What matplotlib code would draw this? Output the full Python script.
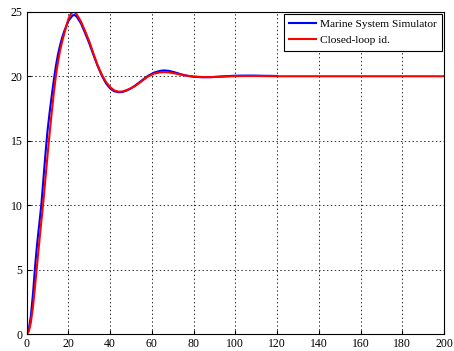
import matplotlib.pyplot as plt

# step response: simulator vs closed-loop identified model
t_sim = [0, 1, 2, 3, 4, 5, 6, 7, 8, 9, 10, 11, 12, 13, 14, 15, 16, 17, 18, 20, 22, 23, 24,
         26, 28, 30, 32, 34, 36, 38, 40, 42, 44, 46, 48, 50, 52, 55, 58, 61, 64, 66, 68, 71,
         74, 77, 80, 84, 88, 92, 96, 100, 104, 108, 112, 116, 120]
y_sim = [0, 0.35, 1.4, 3.1, 5.2, 7.0, 8.5, 10.0, 12.0, 14.0, 15.8, 17.2, 18.5, 19.7, 20.8,
         21.7, 22.4, 23.0, 23.5, 24.3, 24.72, 24.75, 24.62, 24.1, 23.35, 22.55, 21.65, 20.8,
         20.05, 19.45, 19.05, 18.83, 18.76, 18.78, 18.9, 19.06, 19.28, 19.65, 20.02, 20.28,
         20.42, 20.45, 20.42, 20.3, 20.15, 20.03, 19.96, 19.92, 19.93, 19.97, 20.01, 20.04,
         20.05, 20.05, 20.04, 20.03, 20.02]

t_id = [0, 1, 2, 3, 4, 5, 6, 7, 8, 9, 10, 11, 12, 13, 14, 15, 16, 17, 18, 19, 20, 21, 22, 23,
        24, 26, 28, 30, 32, 34, 36, 38, 40, 42, 44, 46, 48, 50, 52, 55, 58, 61, 64, 66, 68,
        71, 74, 77, 80, 84, 88, 92, 96, 100, 110, 120, 200]
y_id = [0, 0.2, 0.9, 2.1, 3.7, 5.4, 7.1, 8.7, 10.3, 12.1, 13.9, 15.6, 17.2, 18.7, 20.05,
        21.1, 22.0, 22.7, 23.3, 23.9, 24.45, 24.8, 24.98, 24.97, 24.8, 24.25, 23.5, 22.7,
        21.75, 20.85, 20.12, 19.55, 19.15, 18.9, 18.8, 18.82, 18.93, 19.07, 19.25, 19.6,
        19.97, 20.2, 20.3, 20.32, 20.3, 20.22, 20.12, 20.04, 19.98, 19.94, 19.93, 19.95,
        19.98, 20.01, 20.02, 20.0, 20.0]

plt.rcParams['font.family'] = ['Liberation Serif', 'DejaVu Serif']

fig = plt.figure(figsize=(4.54, 3.51), dpi=100)
ax = fig.add_axes([0.0588, 0.0484, 0.9192, 0.918])

ax.plot(t_sim, y_sim, color='#0000ff', lw=1.5, label='Marine System Simulator')
ax.plot(t_id, y_id, color='#ff0000', lw=1.5, label='Closed-loop id.')

ax.set_xlim(0, 200)
ax.set_ylim(0, 25)
ax.set_xticks(range(0, 201, 20))
ax.set_yticks(range(0, 26, 5))
ax.grid(True, color='black', linestyle=(0, (1.5, 2.5)), linewidth=0.7, alpha=0.8)
ax.tick_params(direction='in', labelsize=8.5, length=3, pad=3)
for s in ax.spines.values():
    s.set_linewidth(0.8)

leg = ax.legend(loc='upper right', fontsize=8.2, fancybox=False, framealpha=1,
                edgecolor='black', borderaxespad=0.2, handlelength=2.4,
                handletextpad=0.3, borderpad=0.45, labelspacing=0.55)
leg.get_frame().set_linewidth(0.8)

plt.savefig('out.png', dpi=100)
plt.close()
